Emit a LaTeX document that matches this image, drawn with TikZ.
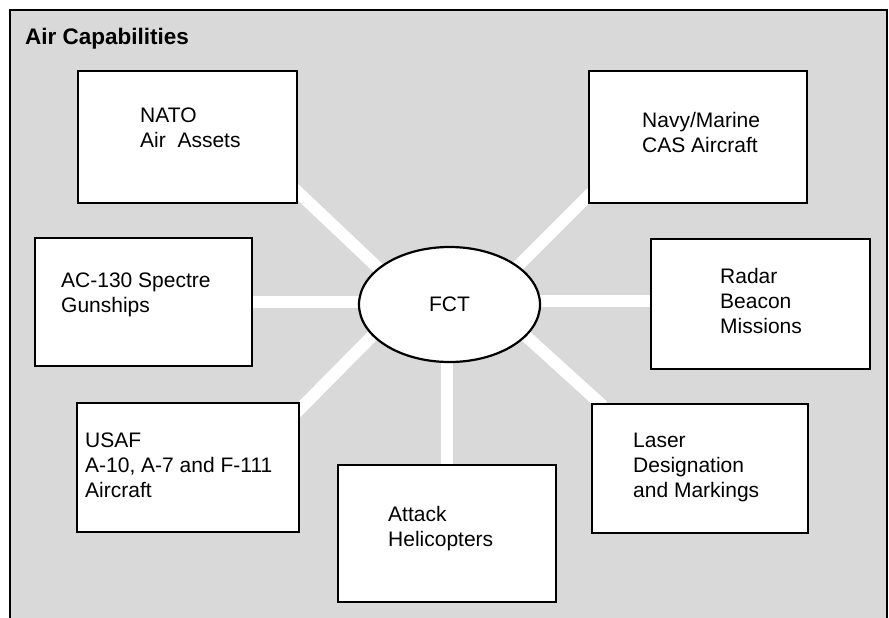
\documentclass[tikz,border=0pt]{standalone}
\usepackage{fontspec}
\setmainfont{Liberation Sans}
\usetikzlibrary{shapes.geometric,backgrounds}

\begin{document}
\begin{tikzpicture}[x=1pt, y=-1pt,
    capbox/.style={draw, line width=2pt, fill=white, anchor=north west, inner sep=0pt},
    captext/.style={anchor=north west, inner sep=0pt, align=left, font=\fontsize{21}{25}\selectfont},
    link/.style={white, line width=12pt}]

        \useasboundingbox (0,0) rectangle (889,618);
        \clip (0,0) rectangle (889,618);

        % 1) Title of the panel
        \node[anchor=north west, inner sep=0pt, font=\bfseries\fontsize{22.5}{26}\selectfont] (title) at (25,28) {Air Capabilities};

        % 2) Boxes for the air assets
        \node[capbox, minimum width=219pt, minimum height=132pt] (nato) at (77,70) {};
        \node[capbox, minimum width=218pt, minimum height=132pt] (navy) at (588,70) {};
        \node[capbox, minimum width=217pt, minimum height=128pt] (spectre) at (34,237) {};
        \node[capbox, minimum width=219pt, minimum height=130pt] (radar) at (650,238) {};
        \node[capbox, minimum width=222pt, minimum height=129pt] (usaf) at (76,402) {};
        \node[capbox, minimum width=216pt, minimum height=129pt] (laser) at (591,403) {};
        \node[capbox, minimum width=218pt, minimum height=137pt] (attack) at (337,464) {};

        % 3) Texts in the boxes
        \node[captext] (natotext) at ([shift={(63,38)}]nato.north west) {NATO\\Air~~Assets};
        \node[captext] (navytext) at ([shift={(54,42)}]navy.north west) {Navy/Marine\\CAS Aircraft};
        \node[captext] (spectretext) at ([shift={(27,36)}]spectre.north west) {AC-130 Spectre\\Gunships};
        \node[captext] (radartext) at ([shift={(70,30)}]radar.north west) {Radar\\Beacon\\Missions};
        \node[captext] (usaftext) at ([shift={(9,31)}]usaf.north west) {USAF\\A-10, A-7 and F-111\\Aircraft};
        \node[captext] (lasertext) at ([shift={(42,30)}]laser.north west) {Laser\\Designation\\and Markings};
        \node[captext] (attacktext) at ([shift={(51,42)}]attack.north west) {Attack\\Helicopters};

        % 4) FCT in the middle
        \node[draw, ellipse, line width=2.2pt, fill=white, minimum width=181pt, minimum height=115pt,
              inner sep=0pt, font=\fontsize{21}{25}\selectfont] (fct) at (449.5,304.5) {FCT};

        \begin{scope}[on background layer]
        % 5) Grey panel with its frame
        \filldraw[fill=black!15, line width=2pt] (10,10) rectangle (887,640);

        % 6) White links from FCT to the boxes
        \draw[link] ([shift={(-16,-27)}]nato.south east) -- ([shift={(-54.5,-20.5)}]fct.center);
        \draw[link] ([shift={(9,-17)}]navy.south west) -- ([shift={(50.5,-20.5)}]fct.center);
        \draw[link] (spectre.center) -- (spectre.center -| fct.center);
        \draw[link] ([yshift=3pt]radar.center) -- ([yshift=3pt]radar.center -| fct.center);
        \draw[link] ([shift={(-8,15)}]usaf.north east) -- ([shift={(-57.5,11.5)}]fct.center);
        \draw[link] ([shift={(12,3)}]laser.north west) -- ([shift={(56.5,13.5)}]fct.center);
        \draw[link] (attack.center) -- (attack.center |- fct.center);
        \end{scope}

    \end{tikzpicture}
\end{document}
